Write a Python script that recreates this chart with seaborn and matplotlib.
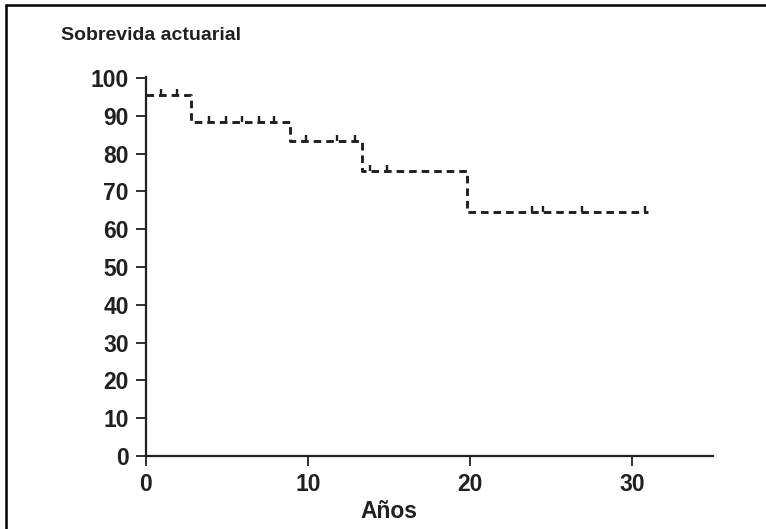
import numpy as np
import pandas as pd
import matplotlib
matplotlib.use("Agg")
import matplotlib.pyplot as plt
from matplotlib.lines import Line2D
import seaborn as sns

# step times (years) and actuarial survival (%)
event_years = [0, 2.75, 8.9, 13.35, 19.8, 31.0]
survival = [95.4, 88.3, 83.3, 75.4, 64.5, 64.5]

# censored observations
censor_years = [0.95, 1.9, 3.9, 4.95, 5.95, 6.95, 7.9, 9.9, 11.8, 12.9,
                13.8, 14.9, 23.8, 24.5, 26.9, 30.8]

x_ticks = [0, 10, 20, 30]
y_ticks = list(range(0, 101, 10))

ink = "#231f20"

sns.set_theme(style="ticks")
plt.rcParams["font.family"] = ["Liberation Sans", "DejaVu Sans"]
plt.rcParams["font.weight"] = "bold"

df = pd.DataFrame({"Años": event_years, "Sobrevida": survival})

fig = plt.figure(figsize=(7.66, 5.29), dpi=100)
ax = fig.add_axes([0.1906, 0.138, 0.931 - 0.1906, 0.8546 - 0.138])

sns.lineplot(data=df, x="Años", y="Sobrevida", ax=ax, drawstyle="steps-post",
             color=ink, linewidth=2.1, linestyle=(0, (2.6, 1.7)), estimator=None)

# censor ticks sitting on the curve
idx = np.searchsorted(event_years, censor_years, side="right") - 1
cens_y = np.array(survival)[idx]
ax.vlines(censor_years, cens_y, cens_y + 1.6, color=ink, linewidth=1.7)

ax.set_xlim(0, 35)
ax.set_ylim(0, 100.3)
ax.set_xticks(x_ticks)
ax.set_yticks(y_ticks)
ax.tick_params(axis="both", length=7, width=1.3, color=ink, labelsize=16.5,
               labelcolor=ink, pad=5.5)
for lab in ax.get_xticklabels() + ax.get_yticklabels():
    lab.set_fontweight("bold")

for side in ["left", "bottom"]:
    ax.spines[side].set_linewidth(1.6)
    ax.spines[side].set_color(ink)
sns.despine(ax=ax)

ax.set_ylabel("")
ax.set_xlabel("Años", fontsize=16.5, fontweight="bold", color=ink)
ax.xaxis.set_label_coords(15 / 35, -0.117)

fig.text(61 / 766, 1 - 40 / 529, "Sobrevida actuarial", fontsize=14,
         fontweight="bold", color=ink, va="baseline", ha="left")

# frame lines at top and left of the figure
fig.add_artist(Line2D([6 / 766, 6 / 766], [0, 1 - 5 / 529], color="black",
                      linewidth=1.8, transform=fig.transFigure))
fig.add_artist(Line2D([6 / 766, 1], [1 - 5 / 529, 1 - 5 / 529], color="black",
                      linewidth=1.8, transform=fig.transFigure))

fig.savefig("out.png", dpi=100)
